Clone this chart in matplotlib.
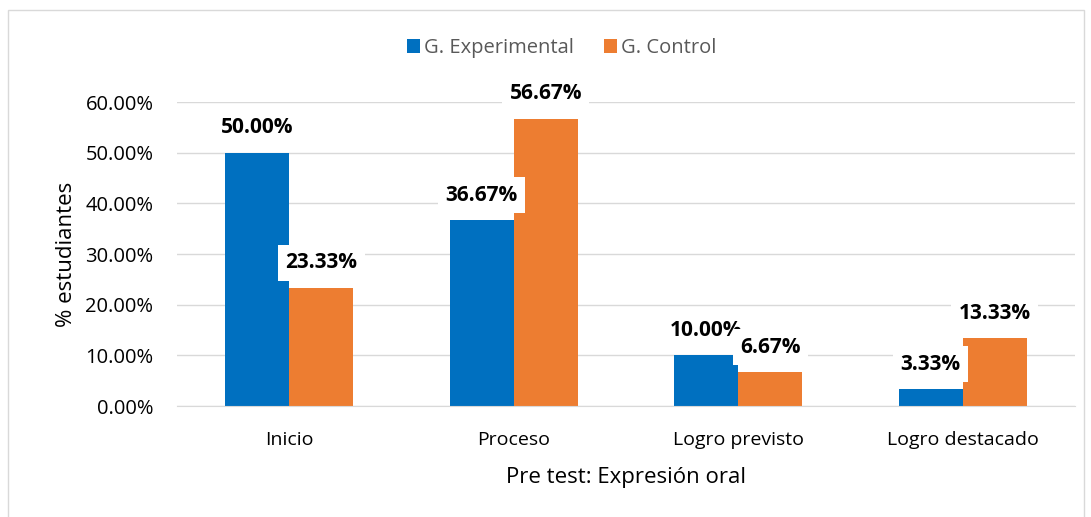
import matplotlib
matplotlib.use('Agg')
import matplotlib.pyplot as plt
import numpy as np
from matplotlib.patches import Rectangle

categorias = ['Inicio', 'Proceso', 'Logro previsto', 'Logro destacado']
experimental = [0.5000, 0.3667, 0.1000, 0.0333]
control = [0.2333, 0.5667, 0.0667, 0.1333]
series = ['G. Experimental', 'G. Control']
yticks = [0.0, 0.1, 0.2, 0.3, 0.4, 0.5, 0.6]

azul = '#0070C0'
naranja = '#ED7D31'

plt.rcParams['font.family'] = ['Open Sans', 'DejaVu Sans']

fig = plt.figure(figsize=(10.91, 5.17), dpi=100)
# marco del grafico
fig.patches.append(Rectangle((8/1091, -0.01), (1084-8)/1091, 1 - 10/517 + 0.01,
                             transform=fig.transFigure, fill=False,
                             edgecolor='#d9d9d9', linewidth=1))
ax = fig.add_axes([177/1091, 1 - 406/517, (1075-177)/1091, (406-102)/517])

x = np.arange(len(categorias))
w = 0.285
ax.bar(x - w/2, experimental, w, color=azul, label=series[0], zorder=2)
ax.bar(x + w/2, control, w, color=naranja, label=series[1], zorder=2)

ax.set_xlim(-0.5, len(categorias) - 0.5)
ax.set_ylim(0, 0.6)
ax.set_yticks(yticks)
ax.set_yticklabels(['%.2f%%' % (v*100) for v in yticks], fontsize=14.5)
ax.set_xticks(x)
ax.set_xticklabels(categorias, fontsize=14)
ax.tick_params(length=0, pad=18)
ax.tick_params(axis='y', pad=17)
ax.grid(axis='y', color='#d9d9d9', linewidth=1, zorder=0)
for s in ['top', 'right', 'left']:
    ax.spines[s].set_visible(False)
ax.spines['bottom'].set_color('#d9d9d9')
ax.set_axisbelow(True)

ax.set_ylabel('% estudiantes', fontsize=16, labelpad=6)
ax.set_xlabel('Pre test: Expresión oral', fontsize=16, labelpad=13)

# etiquetas con caja blanca, en orden por categoria (la segunda tapa a la primera)
z = 5
for i in range(len(categorias)):
    for xs, v in [(x[i] - w/2, experimental[i]), (x[i] + w/2, control[i])]:
        ax.annotate('%.2f%%' % (v*100), (xs, v), xytext=(0, 18),
                    textcoords='offset points', ha='center', va='center',
                    fontsize=15, fontweight='bold', color='black',
                    bbox=dict(boxstyle='square,pad=0.35', fc='white', ec='none'),
                    zorder=z, annotation_clip=False)
        z += 1

leg = ax.legend(loc='center', bbox_to_anchor=((562-177)/898, 1 + (102-48)/(406-102)),
                ncol=2, frameon=False, fontsize=14.5, handlelength=0.65, handleheight=0.65,
                handletextpad=0.2, columnspacing=1.5)
for t in leg.get_texts():
    t.set_color('#595959')

fig.savefig('out.png', dpi=100)
